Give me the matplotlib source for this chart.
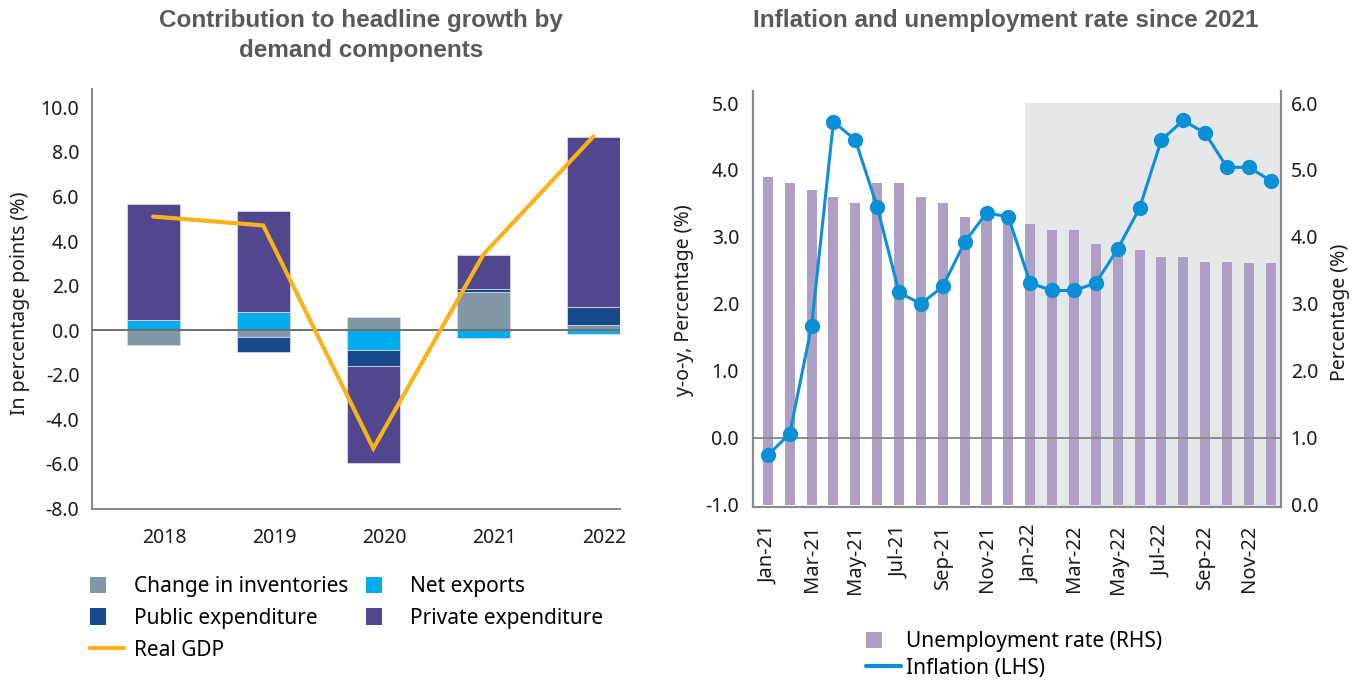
import matplotlib
matplotlib.use("Agg")
import matplotlib.pyplot as plt
import matplotlib.transforms as mtransforms
from matplotlib.patches import Rectangle, Patch
from matplotlib.lines import Line2D
from matplotlib.legend_handler import HandlerPatch
import numpy as np

plt.rcParams['font.family'] = ['Noto Sans', 'DejaVu Sans']

# ---------------- data ----------------
years = ['2018', '2019', '2020', '2021', '2022']
inventories = [-0.65, -0.31, 0.60, 1.70, 0.24]
net_exports = [0.46, 0.80, -0.90, -0.33, -0.18]
public_exp = [0.00, -0.68, -0.70, 0.17, 0.80]
private_exp = [5.22, 4.54, -4.37, 1.51, 7.64]
real_gdp = [5.1, 4.7, -5.3, 3.4, 8.7]

months = ['Jan-21', 'Feb-21', 'Mar-21', 'Apr-21', 'May-21', 'Jun-21',
          'Jul-21', 'Aug-21', 'Sep-21', 'Oct-21', 'Nov-21', 'Dec-21',
          'Jan-22', 'Feb-22', 'Mar-22', 'Apr-22', 'May-22', 'Jun-22',
          'Jul-22', 'Aug-22', 'Sep-22', 'Oct-22', 'Nov-22', 'Dec-22']
unemployment = [4.9, 4.8, 4.7, 4.6, 4.5, 4.8, 4.8, 4.6, 4.5, 4.3, 4.3, 4.3,
                4.2, 4.1, 4.1, 3.9, 3.9, 3.8, 3.7, 3.7, 3.63, 3.63, 3.61, 3.61]
inflation = [-0.26, 0.06, 1.67, 4.72, 4.45, 3.45, 2.17, 2.0, 2.26, 2.92, 3.36, 3.30,
             2.31, 2.2, 2.2, 2.31, 2.82, 3.43, 4.45, 4.74, 4.55, 4.04, 4.04, 3.84]

# ---------------- styles ----------------
C_INV = '#8297a6'
C_NET = '#00adef'
C_PUB = '#174a8b'
C_PRI = '#52468e'
C_GDP = '#f9b218'
C_UNEMP = '#ae9fc4'
C_INFL = '#0b8fd6'
C_SHADE = '#e6e7e9'
C_SPINE = '#8a8a8a'
C_TITLE = '#595959'
TICK_FS = 14
LEG_FS = 15
TITLE_FS = 17.5

W, H = 1360, 680
fig = plt.figure(figsize=(W / 100, H / 100), dpi=100)


def fbox(x0, y0, x1, y1):
    return [x0 / W, 1 - y1 / H, (x1 - x0) / W, (y1 - y0) / H]


# ---------------- left chart ----------------
ax = fig.add_axes(fbox(92, 89.5, 620, 508.5))
x = np.arange(len(years))
bw = 0.48
pos_base = np.zeros(len(years))
neg_base = np.zeros(len(years))
series = [(inventories, C_INV, 'Change in inventories'),
          (net_exports, C_NET, 'Net exports'),
          (public_exp, C_PUB, 'Public expenditure'),
          (private_exp, C_PRI, 'Private expenditure')]
for vals, col, lab in series:
    v = np.array(vals, dtype=float)
    bottoms = np.where(v >= 0, pos_base, neg_base)
    ax.bar(x, v, bw, bottom=bottoms, color=col, edgecolor='#d9d6e6',
           linewidth=0.6, zorder=2, label=lab)
    pos_base = pos_base + np.where(v >= 0, v, 0)
    neg_base = neg_base + np.where(v < 0, v, 0)
ax.axhline(0, color='#6e6e6e', lw=1.4, zorder=3)
ax.plot(x, real_gdp, color=C_GDP, lw=3, zorder=4, solid_capstyle='round',
        solid_joinstyle='miter', label='Real GDP')

ax.set_xlim(-0.555, 4.24)
ax.set_ylim(-8, 10.8)
ax.set_yticks(np.arange(-8, 10.1, 2))
ax.set_yticklabels([f'{v:.1f}' for v in np.arange(-8, 10.1, 2)])
ax.set_xticks(x)
ax.set_xticklabels(years)
ax.tick_params(axis='both', length=0, labelsize=TICK_FS, colors='#1a1a1a')
ax.tick_params(axis='y', pad=9)
ax.tick_params(axis='x', pad=14)
off = mtransforms.ScaledTranslation(11 / 100, 0, fig.dpi_scale_trans)
for lab in ax.get_xticklabels():
    lab.set_transform(lab.get_transform() + off)
for s in ['top', 'right']:
    ax.spines[s].set_visible(False)
for s in ['left', 'bottom']:
    ax.spines[s].set_color(C_SPINE)
    ax.spines[s].set_linewidth(1.5)
ax.set_ylabel('In percentage points (%)', fontsize=TICK_FS, color='#1a1a1a')
ax.yaxis.set_label_coords(-0.118, 0.49)

fig.text(361 / W, 1 - 35.5 / H, 'Contribution to headline growth by\ndemand components',
         ha='center', va='center', fontsize=TITLE_FS, fontweight='bold',
         family='Liberation Sans', color=C_TITLE, linespacing=1.35)


class SquareHandler(HandlerPatch):
    def create_artists(self, legend, orig_handle, xdescent, ydescent,
                       width, height, fontsize, trans):
        s = 0.78 * fontsize
        p = Rectangle((-xdescent, -ydescent + height / 2 - s / 2), s, s,
                      facecolor=orig_handle.get_facecolor(), edgecolor='none',
                      transform=trans)
        return [p]


h_inv = Patch(facecolor=C_INV)
h_net = Patch(facecolor=C_NET)
h_pub = Patch(facecolor=C_PUB)
h_pri = Patch(facecolor=C_PRI)
h_gdp = Line2D([], [], color=C_GDP, lw=3, solid_capstyle='round')
fig.legend([h_inv, h_pub, h_gdp, h_net, h_pri],
           ['Change in inventories', 'Public expenditure', 'Real GDP',
            'Net exports', 'Private expenditure'],
           loc='upper left', bbox_to_anchor=(90 / W, 1 - 576 / H), ncol=2,
           frameon=False, borderpad=0, borderaxespad=0, fontsize=LEG_FS,
           handlelength=1.65, handletextpad=0.45, columnspacing=0.86,
           labelspacing=0.52, handler_map={Patch: SquareHandler()})

# ---------------- right chart ----------------
axl = fig.add_axes(fbox(753, 91, 1281, 506.7))
axr = axl.twinx()
axl.set_zorder(axr.get_zorder() + 1)
axl.patch.set_visible(False)

xm = np.arange(len(months))
ylo, yhi = -1.03, 5.18
axl.set_ylim(ylo, yhi)
axr.set_ylim(ylo + 1, yhi + 1)
axl.set_xlim(-0.68, 23.47)

axr.axvspan(12 - 0.23, 23.47, ymin=0, ymax=(6.0 - (ylo + 1)) / (yhi - ylo),
            color=C_SHADE, lw=0, zorder=0)
axr.bar(xm, unemployment, 0.46, color=C_UNEMP, zorder=2,
        label='Unemployment rate (RHS)')
axr.axhline(1.0, color='#8c8c8c', lw=1.4, zorder=3)
axl.plot(xm, inflation, color=C_INFL, lw=2.2, marker='o', markersize=10,
         zorder=5, label='Inflation (LHS)')
axl.set_xlim(-0.68, 23.47)

axl.set_yticks(np.arange(-1, 5.1, 1))
axl.set_yticklabels([f'{v:.1f}' for v in np.arange(-1, 5.1, 1)])
axr.set_yticks(np.arange(0, 6.1, 1))
axr.set_yticklabels([f'{v:.1f}' for v in np.arange(0, 6.1, 1)])
axl.set_xticks(xm[::2])
axl.set_xticklabels(months[::2], rotation=90)
for a in (axl, axr):
    a.tick_params(axis='both', length=0, labelsize=TICK_FS, colors='#1a1a1a')
axl.tick_params(axis='x', labelsize=14.5, pad=13)
axl.tick_params(axis='y', pad=10)
axr.tick_params(axis='y', pad=7)
for a in (axl, axr):
    a.spines['top'].set_visible(False)
    for s in ['left', 'right', 'bottom']:
        a.spines[s].set_color(C_SPINE)
        a.spines[s].set_linewidth(1.5)
axl.set_ylabel('y-o-y, Percentage (%)', fontsize=TICK_FS, color='#1a1a1a')
axl.yaxis.set_label_coords(-0.112, 0.497)
axr.set_ylabel('Percentage (%)', fontsize=TICK_FS, color='#1a1a1a')
axr.yaxis.set_label_coords(1.093, 0.468)

fig.text(1005.5 / W, 1 - 21 / H, 'Inflation and unemployment rate since 2021',
         ha='center', va='center', fontsize=TITLE_FS, fontweight='bold',
         family='Liberation Sans', color=C_TITLE)

h_un = Patch(facecolor=C_UNEMP)
h_in = Line2D([], [], color=C_INFL, lw=3, solid_capstyle='round')
fig.legend([h_un, h_in], ['Unemployment rate (RHS)', 'Inflation (LHS)'],
           loc='upper left', bbox_to_anchor=(866 / W, 1 - 631 / H), ncol=1,
           frameon=False, borderpad=0, borderaxespad=0, fontsize=LEG_FS,
           handlelength=1.68, handletextpad=0.25, labelspacing=0.27,
           handler_map={Patch: SquareHandler()})

fig.savefig('out.png', dpi=100)
